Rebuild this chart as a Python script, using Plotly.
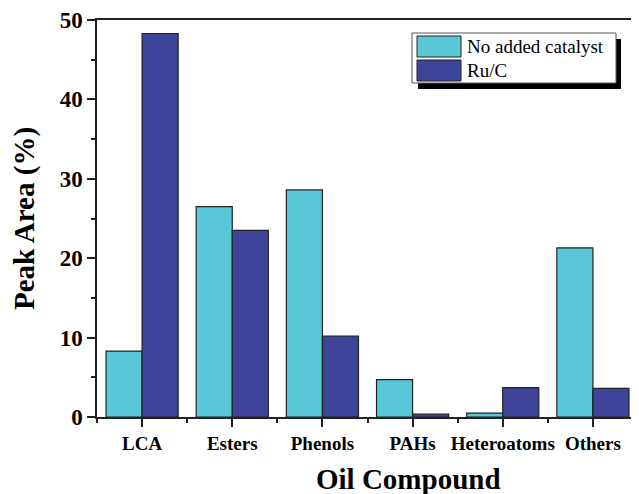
import plotly.graph_objects as go

categories = ["LCA", "Esters", "Phenols", "PAHs", "Heteroatoms", "Others"]
series_names = ["No added catalyst", "Ru/C"]
no_catalyst = [8.3, 26.5, 28.6, 4.7, 0.5, 21.3]
ru_c = [48.3, 23.5, 10.2, 0.35, 3.7, 3.6]
colors = ["#58C8D8", "#3D4499"]
x_title = "Oil Compound"
y_title = "Peak Area (%)"

# page has an 8px body margin; figure is placed at (8, 8)
OFF = 8
W, H = 631, 486
L, R, T, B = 97 - OFF, 1, 20 - OFF, 77
PW, PH = W - L - R, H - T - B

def px(x):
    # page x pixel -> paper coordinate
    return (x - OFF - L) / PW

def py(y):
    # page y pixel -> paper coordinate
    return (H - B - (y - OFF)) / PH

xpos = list(range(len(categories)))

fig = go.Figure()
for name, vals, col in zip(series_names, [no_catalyst, ru_c], colors):
    fig.add_trace(go.Bar(
        x=xpos, y=vals, name=name,
        marker=dict(color=col, line=dict(color="#222222", width=1.2)),
        showlegend=False,
    ))

font_b = "Liberation Serif, Times New Roman, serif"

fig.update_layout(
    width=W, height=H,
    margin=dict(l=L, r=R, t=T, b=B, autoexpand=False),
    paper_bgcolor="white", plot_bgcolor="white",
    barmode="group", bargap=0.2, bargroupgap=0,
    font=dict(family=font_b, color="black"),
    xaxis=dict(
        automargin=False,
        range=[-0.5, len(categories) - 0.5],
        tickvals=xpos, ticktext=["<b>%s</b>" % c for c in categories],
        ticks="outside", ticklen=8, tickwidth=1.5, tickcolor="#222",
        minor=dict(tickvals=[i + 0.5 for i in range(-1, len(categories))],
                   ticks="outside", ticklen=4, tickwidth=1.5, tickcolor="#222"),
        showline=True, linecolor="#222", linewidth=1.5, mirror=True,
        showgrid=False, zeroline=False,
        tickfont=dict(size=19, family=font_b),
    ),
    yaxis=dict(
        automargin=False,
        range=[0, 50], dtick=10,
        ticks="outside", ticklen=8, tickwidth=1.5, tickcolor="#222",
        minor=dict(dtick=5, ticks="outside", ticklen=4, tickwidth=1.5, tickcolor="#222"),
        showline=True, linecolor="#222", linewidth=1.5, mirror=True,
        showgrid=False, zeroline=False,
        tickprefix="<b>", ticksuffix="</b>",
        tickfont=dict(size=23, family=font_b),
        title=dict(text="<b>%s</b>" % y_title, font=dict(size=29, family=font_b), standoff=18),
    ),
)

# x-axis title (offset right of the plot centre, as in the reference)
fig.add_annotation(xref="paper", yref="paper", x=px(408), y=py(479),
                   text="<b>%s</b>" % x_title, showarrow=False,
                   xanchor="center", yanchor="middle",
                   font=dict(size=29, family=font_b, color="black"))

# custom legend (shadow, box, swatches, labels)
shapes = [
    dict(type="rect", xref="paper", yref="paper",
         x0=px(418), x1=px(621), y0=py(89), y1=py(39),
         fillcolor="black", line=dict(width=0)),
    dict(type="rect", xref="paper", yref="paper",
         x0=px(412), x1=px(616), y0=py(83), y1=py(33),
         fillcolor="white", line=dict(color="#555555", width=1)),
]
sw_y = [(36, 57), (60, 81)]
for (y0, y1), col, name in zip(sw_y, colors, series_names):
    shapes.append(dict(type="rect", xref="paper", yref="paper",
                       x0=px(417), x1=px(461), y0=py(y1), y1=py(y0),
                       fillcolor=col, line=dict(color="#222222", width=1)))
    fig.add_annotation(xref="paper", yref="paper", x=px(465), y=py((y0 + y1) / 2),
                       text=name, showarrow=False, xanchor="left", yanchor="middle",
                       font=dict(size=19, family=font_b, color="black"))
fig.update_layout(shapes=shapes)

fig.write_html("out.html")
